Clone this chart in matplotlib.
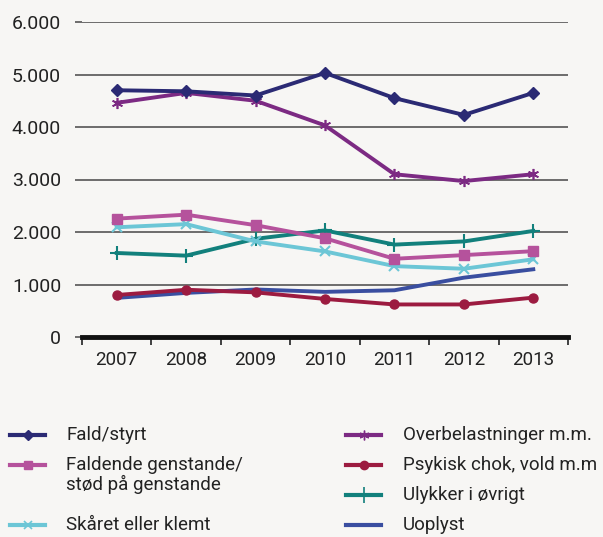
import matplotlib
matplotlib.use('Agg')
import matplotlib.pyplot as plt
from matplotlib.lines import Line2D
import numpy as np

plt.rcParams['font.family'] = ['Roboto', 'DejaVu Sans']

years = ['2007', '2008', '2009', '2010', '2011', '2012', '2013']

fald = [4700, 4680, 4600, 5030, 4550, 4230, 4650]
overbelastning = [4460, 4650, 4500, 4030, 3100, 2970, 3100]
faldende = [2255, 2330, 2130, 1880, 1490, 1560, 1635]
skaaret = [2090, 2150, 1820, 1630, 1350, 1300, 1480]
ulykker = [1600, 1550, 1870, 2030, 1760, 1820, 2020]
psykisk = [800, 900, 850, 725, 620, 620, 750]
uoplyst = [745, 840, 905, 860, 890, 1130, 1290]

labels = ['Fald/styrt', 'Faldende genstande/\nstød på genstande',
          'Skåret eller klemt', 'Overbelastninger m.m.',
          'Psykisk chok, vold m.m', 'Ulykker i øvrigt', 'Uoplyst']
colors = ['#2b2a74', '#b5529c', '#6cc6d6', '#7c2a83',
          '#9c1b40', '#12807c', '#3a4ea0']

bg = '#f7f6f4'
fig = plt.figure(figsize=(6.03, 5.37), dpi=100, facecolor=bg)
ax = fig.add_axes([82/603, 1 - 337/537, 486/603, 315/537], facecolor=bg)

x = np.arange(len(years))
lw = 2.8
# Draw order so the lines overlap like in the original
ax.plot(x, uoplyst, color=colors[6], lw=lw, zorder=3)
ax.plot(x, psykisk, color=colors[4], lw=lw, marker='o', ms=6.5, zorder=4)
ax.plot(x, ulykker, color=colors[5], lw=lw, marker='+', ms=10, mew=1.5, zorder=3)
ax.plot(x, skaaret, color=colors[2], lw=lw, marker='x', ms=7, mew=1.5, zorder=3)
ax.plot(x, faldende, color=colors[1], lw=lw, marker='s', ms=7, zorder=4)
ax.plot(x, overbelastning, color=colors[3], lw=lw, marker=(6, 2, 0), ms=8, mew=1.2, zorder=3)
ax.plot(x, fald, color=colors[0], lw=lw, marker='D', ms=6, zorder=4)

ax.set_xlim(-0.5, 6.5)
ax.set_ylim(0, 6000)
ax.set_yticks(np.arange(0, 6001, 1000))
ax.set_yticklabels(['0', '1.000', '2.000', '3.000', '4.000', '5.000', '6.000'])
ax.yaxis.grid(True, color='#555555', lw=1.2)
ax.set_axisbelow(True)
ax.tick_params(axis='y', length=5, color='#555555', width=1.2, pad=10,
               labelsize=14, labelcolor='#222222')

ax.set_xticks(x)
ax.set_xticklabels(years)
ax.set_xticks(np.arange(-0.5, 7, 1), minor=True)
ax.tick_params(axis='x', which='major', length=0, pad=10, labelsize=13.5,
               labelcolor='#222222')
ax.tick_params(axis='x', which='minor', length=6, color='#222222', width=1.2,
               direction='out')

for s in ['top', 'right', 'left']:
    ax.spines[s].set_visible(False)
ax.spines['bottom'].set_linewidth(3.5)
ax.spines['bottom'].set_color('#111111')
ax.spines['bottom'].set_zorder(5)

# Legend, placed by hand
styles = [
    dict(marker='D', ms=5),
    dict(marker='s', ms=6),
    dict(marker='x', ms=6, mew=1.2),
    dict(marker=(6, 2, 0), ms=7, mew=1.0),
    dict(marker='o', ms=6),
    dict(marker='|', ms=12, mew=1.2),
    None,
]
ys_px = [435, 465, 525, 435, 465, 495, 525]
text_px = [435, 475, 525, 435, 465, 495, 525]
for i in range(7):
    if i < 3:
        x0, x1, tx = 10, 45, 66
    else:
        x0, x1, tx = 346, 381, 403
    yf = 1 - ys_px[i] / 537
    fig.add_artist(Line2D([x0/603, x1/603], [yf, yf], color=colors[i], lw=3))
    if styles[i] is not None:
        fig.add_artist(Line2D([(x0 + x1) / 2 / 603], [yf], color=colors[i],
                              lw=0, **styles[i]))
    fig.text(tx/603, 1 - text_px[i] / 537, labels[i], fontsize=13.5,
             color='#222222', va='center', ha='left', linespacing=1.0)

fig.savefig('out.png', dpi=100, facecolor=bg)
